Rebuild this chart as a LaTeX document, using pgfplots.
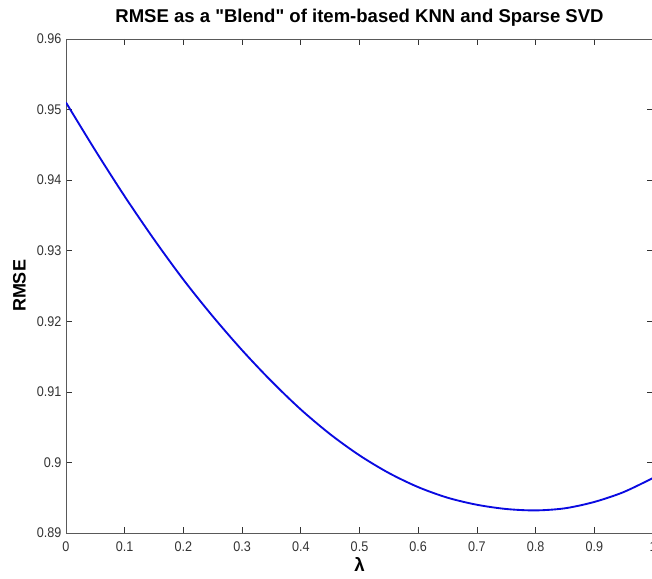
\documentclass[border=0pt]{standalone}
\usepackage{fontspec}
\setmainfont{Liberation Sans}[Ligatures=TeXOff]
\newfontfamily\tickfont[FakeStretch=0.9]{Liberation Sans}
\usepackage{pgfplots}
\pgfplotsset{compat=1.18}

\pgfplotstableread{
lambda rmse
0.00 0.9510
0.05 0.9442
0.10 0.9377
0.15 0.9316
0.20 0.9259
0.25 0.9207
0.30 0.9159
0.35 0.9115
0.40 0.9075
0.45 0.9040
0.50 0.9010
0.55 0.8985
0.60 0.8965
0.65 0.8950
0.70 0.8940
0.75 0.8934
0.80 0.8932
0.85 0.8935
0.90 0.8944
0.95 0.8958
1.00 0.8978
}\blend

\begin{document}
\begin{tikzpicture}
  \begin{axis}[
    scale only axis,
    width=440.25pt, height=370.5pt,
    xmin=0, xmax=1, ymin=0.89, ymax=0.96,
    xtick={0,0.1,...,1.01},
    ytick={0.89,0.90,...,0.965},
    /pgf/number format/assume math mode=true,
    /pgf/number format/fixed,
    /pgf/number format/precision=2,
    tick label style={font=\tickfont\fontsize{10.5}{12}\selectfont, text=black!80},
    xticklabel style={yshift=-3pt},
    major tick length=4.5pt,
    tick style={black!80, line width=0.5pt},
    axis line style={black!65, line width=0.6pt},
    title={RMSE as a "Blend" of item-based KNN and Sparse SVD},
    title style={font=\bfseries\fontsize{13.9}{16}\selectfont, at={(axis description cs:0.5,1)}, anchor=base, yshift=6pt},
    xlabel={\bfseries λ},
    xlabel style={font=\fontsize{14}{16}\selectfont, at={(axis description cs:0.5,0)}, anchor=center, yshift=-24pt},
    ylabel={RMSE},
    ylabel style={font=\bfseries\fontsize{13.5}{16}\selectfont, at={(axis description cs:0,0.5)}, anchor=center, yshift=35pt},
  ]
    \addplot[color={rgb,255:red,10;green,10;blue,225}, line width=1.4pt, smooth, no marks] table[x=lambda, y=rmse] {\blend};
    \coordinate (bl) at (rel axis cs:0,0);
    \coordinate (tr) at (rel axis cs:1,1);
  \end{axis}
  \pgfresetboundingbox
  \path[use as bounding box] ([xshift=-49.5pt, yshift=-34.5pt]bl) rectangle ([xshift=-0.75pt, yshift=29.25pt]tr);
\end{tikzpicture}
\end{document}
